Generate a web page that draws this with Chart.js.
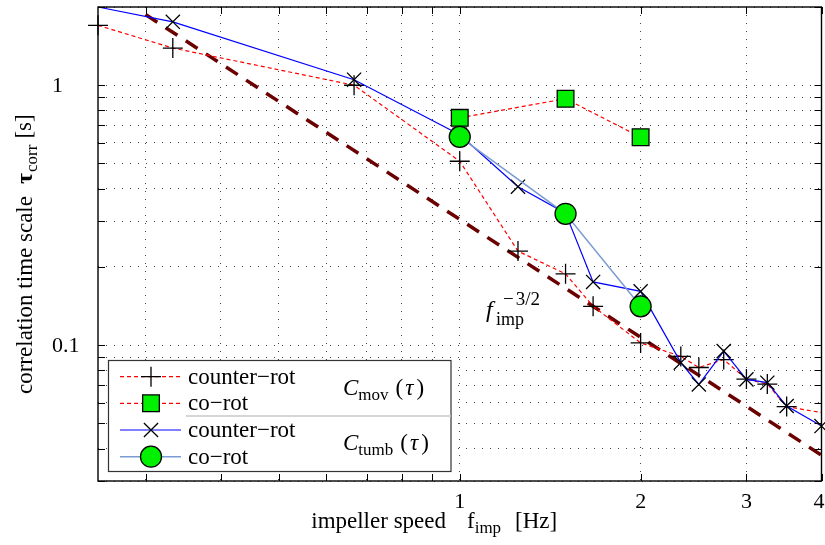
<!DOCTYPE html>
<html>
<head>
<meta charset="utf-8">
<script src="https://cdn.jsdelivr.net/npm/chart.js@4.4.1/dist/chart.umd.min.js"></script>
<style>
html,body{margin:0;padding:0;background:#fff;}
#wrap{width:825px;height:545px;}
</style>
</head>
<body>
<div id="wrap"><canvas id="chart" width="825" height="545"></canvas></div>
<script>
// values (log-log axes)
const movCounterX=[0.25,0.333,0.667,1,1.25,1.5,1.667,2,2.333,2.5,2.75,3,3.25,3.5,4];
const movCounterY=[1.70,1.39,1.0,0.51,0.23,0.188,0.141,0.102,0.0905,0.082,0.088,0.074,0.0708,0.058,0.055];
const movCoX=[1,1.5,2];
const movCoY=[0.749,0.887,0.631];
const tumbCounterX=[0.25,0.333,0.667,1,1.25,1.5,1.667,2,2.333,2.5,2.75,3,3.25,3.5,4];
const tumbCounterY=[2.0,1.754,1.05,0.645,0.407,0.322,0.175,0.161,0.0856,0.0706,0.0948,0.0738,0.0717,0.0583,0.0488];
const tumbCoX=[1,1.5,2];
const tumbCoY=[0.633,0.32,0.141];
const powerLawX=[0.3,4];
const powerLawY=[1.87,0.0377];

const xTicks=[0.3,0.4,0.5,0.6,0.7,0.8,0.9,1,2,3,4];
const yTicks=[0.03,0.04,0.05,0.06,0.07,0.08,0.09,0.1,0.2,0.3,0.4,0.5,0.6,0.7,0.8,0.9,1,2];
const xLabelValues=[1,2,3,4];
const xLabelText=['1','2','3','4'];
const yLabelValues=[1,0.1];
const yLabelText=['1','0.1'];

const serif='"Liberation Serif", "DejaVu Serif", serif';
const green='#00f000';

function pts(xs,ys){return xs.map((v,i)=>({x:v,y:ys[i]}));}

function marker(ctx,style,x,y,r)
{
ctx.beginPath();
if(style==='cross'){ctx.moveTo(x-r,y);ctx.lineTo(x+r,y);ctx.moveTo(x,y-r);ctx.lineTo(x,y+r);ctx.stroke();return;}
if(style==='crossRot'){const d=r*Math.SQRT1_2;ctx.moveTo(x-d,y-d);ctx.lineTo(x+d,y+d);ctx.moveTo(x+d,y-d);ctx.lineTo(x-d,y+d);ctx.stroke();return;}
if(style==='rect'){const s=r*Math.SQRT1_2;ctx.rect(x-s,y-s,2*s,2*s);}
else{ctx.arc(x,y,r,0,Math.PI*2);}
ctx.fill();ctx.stroke();
}

// draws a list of [text,font,dx,dy] pieces one after another
function run(ctx,x0,base,pieces)
{
let cx=x0;
pieces.forEach(p=>{
ctx.font=p[1];
cx+=p[2]||0;
ctx.fillText(p[0],cx,base+(p[3]||0));
cx+=ctx.measureText(p[0]).width;
});
return cx;
}

const decor={
id:'decor',
afterDraw(chart)
{
const {ctx,chartArea:a,scales:{x,y}}=chart;
ctx.save();
// frame + inward ticks
ctx.strokeStyle='#000';
ctx.lineWidth=1;
ctx.beginPath();
xTicks.forEach(v=>{
const px=Math.round(x.getPixelForValue(v))+0.5;
ctx.moveTo(px,a.bottom);ctx.lineTo(px,a.bottom-7);
ctx.moveTo(px,a.top);ctx.lineTo(px,a.top+7);
});
yTicks.forEach(v=>{
const py=Math.round(y.getPixelForValue(v))+0.5;
ctx.moveTo(a.left,py);ctx.lineTo(a.left+7,py);
ctx.moveTo(a.right,py);ctx.lineTo(a.right-7,py);
});
ctx.stroke();
ctx.lineWidth=1.4;
ctx.strokeRect(a.left,a.top,a.right-a.left,a.bottom-a.top);

// tick labels
ctx.fillStyle='#000';
ctx.font='22px '+serif;
ctx.textBaseline='middle';
ctx.textAlign='center';
xLabelValues.forEach((v,i)=>ctx.fillText(xLabelText[i],Math.min(x.getPixelForValue(v),819),502));
ctx.textAlign='left';
yLabelValues.forEach((v,i)=>ctx.fillText(yLabelText[i],52,y.getPixelForValue(v)+1));

// x title
ctx.textBaseline='alphabetic';
ctx.textAlign='right';
ctx.font='23px '+serif;
ctx.fillText('impeller speed',446,528);
ctx.textAlign='left';
run(ctx,467,528,[['f','23px '+serif],['imp','17px '+serif,0,5]]);
ctx.font='23px '+serif;
ctx.fillText('[Hz]',515,528);

// y title
ctx.save();
ctx.translate(32,0);
ctx.rotate(-Math.PI/2);
run(ctx,-394,0,[
['correlation time scale','23px '+serif],
['\u03c4','bold 24px '+serif,12],
['corr','17px '+serif,1,5],
['[s]','23px '+serif,6,-1]
]);
ctx.restore();

// power law annotation
ctx.font='italic 24px '+serif;
ctx.fillText('f',486,317);
run(ctx,496,325,[['imp','18px '+serif]]);
run(ctx,503,305,[['\u2212','19px '+serif],['3/2','19px '+serif,2]]);

// legend
const L=108.5,T=360.5,R=451,B=471.5;
ctx.fillStyle='#fff';
ctx.fillRect(L,T,R-L,B-T);
ctx.strokeStyle='#333';
ctx.lineWidth=1.2;
ctx.strokeRect(L,T,R-L,B-T);
ctx.strokeStyle='#c8c8c8';
ctx.lineWidth=1.3;
ctx.beginPath();ctx.moveTo(186,416);ctx.lineTo(R,416);ctx.stroke();

const rows=[
{y:376.7,color:'#ff0000',dash:[4,3],lw:1.2,style:'cross',r:10,fill:'#000',text:'counter\u2212rot'},
{y:403.3,color:'#ff0000',dash:[4,3],lw:1.2,style:'rect',r:11.8,fill:green,text:'co\u2212rot'},
{y:430,color:'#0000ff',dash:[],lw:1.2,style:'crossRot',r:10,fill:'#000',text:'counter\u2212rot'},
{y:456.7,color:'#7b9bd3',dash:[],lw:1.5,style:'circle',r:10.5,fill:green,text:'co\u2212rot'}
];
rows.forEach(o=>{
ctx.strokeStyle=o.color;ctx.lineWidth=o.lw;ctx.setLineDash(o.dash);
ctx.beginPath();ctx.moveTo(120,o.y);ctx.lineTo(181,o.y);ctx.stroke();
ctx.setLineDash([]);
ctx.strokeStyle='#000';ctx.fillStyle=o.fill;ctx.lineWidth=1.3;
marker(ctx,o.style,151,o.y,o.r);
ctx.fillStyle='#000';
ctx.font='23px '+serif;
ctx.fillText(o.text,188,o.y+7);
});

const groupLabel=(sub,base)=>run(ctx,343,base,[
['C','italic 23px '+serif],
[sub,'17px '+serif,0,4.5],
['(','23px '+serif,7],
['\u03c4','italic 23px '+serif,2],
[')','23px '+serif,3]
]);
groupLabel('mov',395);
groupLabel('tumb',450);
ctx.restore();
}
};

const ctx=document.getElementById('chart');
new Chart(ctx,
{
type:'scatter',
data:{
datasets:[
{
label:'co-rot Ctumb',
data:pts(tumbCoX,tumbCoY),
showLine:true,
borderColor:'#7b9bd3',
borderWidth:1.5,
pointStyle:'circle',
pointRadius:10.5,
pointBackgroundColor:green,
pointBorderColor:'#000',
pointBorderWidth:1.3,
order:1,
clip:false
},
{
label:'counter-rot Ctumb',
data:pts(tumbCounterX,tumbCounterY),
showLine:true,
borderColor:'#0000ff',
borderWidth:1.2,
pointStyle:'crossRot',
pointRadius:c=>c.dataIndex===0?0:10,
pointBorderColor:'#000',
pointBackgroundColor:'#000',
pointBorderWidth:1.3,
order:2,
clip:false
},
{
label:'co-rot Cmov',
data:pts(movCoX,movCoY),
showLine:true,
borderColor:'#ff0000',
borderWidth:1.2,
borderDash:[4,3],
pointStyle:'rect',
pointRadius:11.8,
pointBackgroundColor:green,
pointBorderColor:'#000',
pointBorderWidth:1.3,
order:3,
clip:false
},
{
label:'counter-rot Cmov',
data:pts(movCounterX,movCounterY),
showLine:true,
borderColor:'#ff0000',
borderWidth:1.2,
borderDash:[4,3],
pointStyle:'cross',
pointRadius:c=>c.dataIndex===movCounterX.length-1?0:10,
pointBorderColor:'#000',
pointBackgroundColor:'#000',
pointBorderWidth:1.3,
order:4,
clip:false
},
{
label:'f^-3/2',
data:pts(powerLawX,powerLawY),
showLine:true,
borderColor:'#6b0000',
borderWidth:3.5,
borderDash:[14,10],
borderCapStyle:'butt',
pointRadius:0,
order:5,
clip:false
}
]
},
options:{
responsive:false,
animation:false,
events:[],
layout:{autoPadding:false,padding:{left:0,right:3.5,top:7,bottom:0}},
plugins:{legend:{display:false},tooltip:{enabled:false}},
elements:{line:{tension:0}},
scales:{
x:{
type:'logarithmic',
min:0.25,
max:4,
afterBuildTicks:s=>{s.ticks=xTicks.map(v=>({value:v}));},
afterFit:s=>{s.height=64;},
ticks:{display:false},
grid:{color:'#444',lineWidth:1,drawTicks:false},
border:{display:false,dash:[1,7]}
},
y:{
type:'logarithmic',
min:0.03,
max:2,
afterBuildTicks:s=>{s.ticks=yTicks.map(v=>({value:v}));},
afterFit:s=>{s.width=98;},
ticks:{display:false},
grid:{color:'#444',lineWidth:1,drawTicks:false},
border:{display:false,dash:[1,7]}
}
}
},
plugins:[decor]
});
</script>
</body>
</html>
